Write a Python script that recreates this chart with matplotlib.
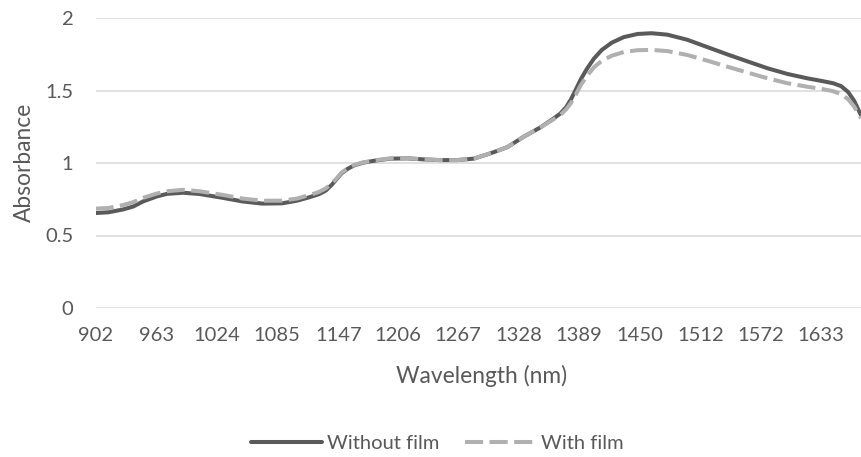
import numpy as np
import matplotlib
matplotlib.use("Agg")
import matplotlib.pyplot as plt

plt.rc('font', family=['Lato', 'DejaVu Sans'], size=14.5)

TEXT_COLOR = '#595959'

# wavelength (nm) and absorbance
wl = [902, 915, 930, 940, 950, 964, 974, 990, 1007, 1030, 1050, 1070, 1090, 1105,
      1118, 1127, 1134, 1140, 1145, 1150, 1156, 1163, 1172, 1185, 1199, 1216, 1232,
      1249, 1266, 1283, 1300, 1317, 1333, 1350, 1363, 1370, 1376, 1381, 1386, 1391,
      1397, 1404, 1412, 1422, 1434, 1448, 1462, 1478, 1498, 1518, 1538, 1559, 1579,
      1599, 1619, 1634, 1645, 1653, 1660, 1666, 1673]

abs_without = [0.655, 0.66, 0.68, 0.70, 0.735, 0.77, 0.787, 0.795, 0.786, 0.76, 0.735,
               0.72, 0.722, 0.74, 0.765, 0.785, 0.81, 0.85, 0.89, 0.93, 0.96, 0.985,
               1.003, 1.018, 1.03, 1.032, 1.025, 1.02, 1.02, 1.03, 1.067, 1.11, 1.18,
               1.245, 1.305, 1.34, 1.385, 1.44, 1.51, 1.58, 1.65, 1.72, 1.78, 1.83,
               1.868, 1.89, 1.895, 1.885, 1.85, 1.80, 1.75, 1.70, 1.653, 1.614, 1.584,
               1.565, 1.55, 1.53, 1.49, 1.43, 1.33]

abs_with = [0.685, 0.69, 0.71, 0.73, 0.76, 0.79, 0.805, 0.815, 0.805, 0.78, 0.755,
            0.74, 0.74, 0.755, 0.78, 0.80, 0.825, 0.86, 0.895, 0.935, 0.963, 0.988,
            1.005, 1.02, 1.032, 1.033, 1.026, 1.02, 1.02, 1.03, 1.067, 1.11, 1.18,
            1.245, 1.30, 1.33, 1.37, 1.415, 1.475, 1.54, 1.60, 1.66, 1.705, 1.74,
            1.765, 1.778, 1.78, 1.772, 1.745, 1.706, 1.665, 1.623, 1.584, 1.55, 1.526,
            1.51, 1.495, 1.475, 1.44, 1.39, 1.31]

xtick_labels = [902, 963, 1024, 1085, 1147, 1206, 1267, 1328, 1389, 1450, 1512, 1572, 1633]
ytick_vals = [0, 0.5, 1, 1.5, 2]

W, H = 861, 457
fig = plt.figure(figsize=(W / 100, H / 100), dpi=100)
ax = fig.add_axes([95.5 / W, (H - 308) / H, (W - 95.5) / W, 290 / H])

ax.plot(wl, abs_without, color='#5a5a5a', lw=2.9, solid_capstyle='round',
        solid_joinstyle='round', label='Without film', zorder=3)
ax.plot(wl, abs_with, color='#b0b0b0', lw=2.9, dashes=(4.5, 1.6),
        dash_capstyle='butt', dash_joinstyle='round', label='With film', zorder=4)

ax.set_xlim(902, 1673)
ax.set_ylim(0, 2)
ax.set_xticks(xtick_labels)
ax.set_xticklabels([str(v) for v in xtick_labels])
ax.set_yticks(ytick_vals)
ax.set_yticklabels(['0', '0.5', '1', '1.5', '2'])
ax.tick_params(axis='both', length=0, colors=TEXT_COLOR, labelsize=14.5)
ax.tick_params(axis='x', pad=14)
ax.tick_params(axis='y', pad=16)
ax.grid(axis='y', color='#d9d9d9', linewidth=1.1)
ax.set_axisbelow(True)
for s in ax.spines.values():
    s.set_visible(False)

fig.text(24 / W, 1 - 162 / H, 'Absorbance', rotation=90, ha='center', va='center',
         fontsize=16.4, color=TEXT_COLOR)
fig.text(482 / W, 1 - 383 / H, 'Wavelength (nm)', ha='center', va='baseline',
         fontsize=16.4, color=TEXT_COLOR)

leg = fig.legend(loc='center', bbox_to_anchor=(437.5 / W, 1 - 443 / H), ncol=2,
                 frameon=False, handlelength=3.5, handletextpad=0.25, columnspacing=1.3,
                 fontsize=14.5)
for t in leg.get_texts():
    t.set_color(TEXT_COLOR)

plt.savefig('out.png', dpi=100)
